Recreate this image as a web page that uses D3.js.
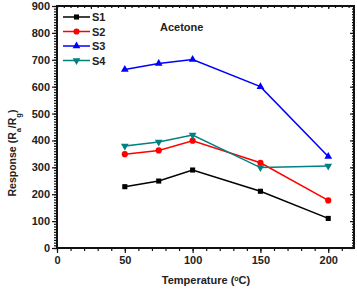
<!DOCTYPE html>
<html>
<head>
<meta charset="UTF-8">
<script src="https://d3js.org/d3.v7.min.js"></script>
<style>
  body { margin: 0; background: #fff; font-family: "Liberation Sans", Arial, sans-serif; }
  text { font-weight: bold; fill: #222; }
</style>
</head>
<body>
<svg id="chart" width="357" height="290"></svg>
<script>
// temperatures (°C)
const temps = [50, 75, 100, 150, 200];
const s1 = [228, 249, 290, 211, 110];
const s2 = [349, 363, 399, 317, 177];
const s3 = [664, 686, 701, 600, 340];
const s4 = [379, 394, 420, 299, 305];
const seriesNames = ["S1", "S2", "S3", "S4"];
const seriesColors = ["#000000", "#ff0000", "#0000ff", "#008080"];
const seriesSymbols = [d3.symbolSquare, d3.symbolCircle, d3.symbolTriangle, d3.symbolTriangle];
const xTicks = [0, 50, 100, 150, 200];
const yTicks = [0, 100, 200, 300, 400, 500, 600, 700, 800, 900];

const allSeries = [s1, s2, s3, s4];
const svg = d3.select("#chart");
const margin = { left: 57, right: 3, top: 6, bottom: 42 };
const W = 357, H = 290;

const x = d3.scaleLinear().domain([0, 219]).range([margin.left, W - margin.right]);
const y = d3.scaleLinear().domain([0, 900]).range([H - margin.bottom, margin.top]);

// minor ticks
const g = svg.append("g");
g.append("g").attr("transform", `translate(0,${y(0)})`)
  .call(d3.axisBottom(x).tickValues(d3.range(0, 220, 10)).tickSize(3).tickFormat(""));
g.append("g").attr("transform", `translate(0,${y(900)})`)
  .call(d3.axisBottom(x).tickValues(d3.range(0, 220, 5)).tickSize(2).tickFormat(""));
g.append("g").attr("transform", `translate(0,${y(900)})`)
  .call(d3.axisBottom(x).tickValues(d3.range(0, 220, 25)).tickSize(3).tickFormat(""));
g.append("g").attr("transform", `translate(${x(0)},0)`)
  .call(d3.axisLeft(y).tickValues(d3.range(0, 901, 10)).tickSize(3).tickFormat(""));
g.append("g").attr("transform", `translate(${x(219)},0)`)
  .call(d3.axisLeft(y).tickValues(d3.range(0, 901, 10)).tickSize(2).tickFormat(""));
g.append("g").attr("transform", `translate(${x(219)},0)`)
  .call(d3.axisLeft(y).tickValues(yTicks).tickSize(4).tickFormat(""));

// major axes
const xAxis = g.append("g").attr("transform", `translate(0,${y(0)})`)
  .call(d3.axisBottom(x).tickValues(xTicks).tickSize(5).tickPadding(3));
const yAxis = g.append("g").attr("transform", `translate(${x(0)},0)`)
  .call(d3.axisLeft(y).tickValues(yTicks).tickSize(5).tickPadding(2));
g.selectAll(".domain").remove();
g.selectAll("line").attr("stroke", "#111").attr("stroke-width", 1.2);
xAxis.selectAll("text").attr("font-size", 11).attr("font-weight", "bold").attr("fill", "#222").attr("font-family", "Liberation Sans, Arial");
yAxis.selectAll("text").attr("font-size", 11).attr("font-weight", "bold").attr("fill", "#222").attr("font-family", "Liberation Sans, Arial");

// frame
svg.append("rect")
  .attr("x", x(0)).attr("y", y(900))
  .attr("width", x(219) - x(0)).attr("height", y(0) - y(900))
  .attr("fill", "none").attr("stroke", "#111").attr("stroke-width", 2);

// series
const line = d3.line().x((d, i) => x(temps[i])).y(d => y(d));
allSeries.forEach((vals, k) => {
  svg.append("path").datum(vals).attr("d", line)
    .attr("fill", "none").attr("stroke", seriesColors[k]).attr("stroke-width", 1.5);
  svg.selectAll(null).data(vals).enter().append("path")
    .attr("d", d3.symbol().type(seriesSymbols[k]).size(k === 1 ? 30 : 26))
    .attr("transform", (d, i) => `translate(${x(temps[i])},${y(d)})${k === 3 ? " rotate(180)" : ""}`)
    .attr("fill", seriesColors[k]);
});

// legend
seriesNames.forEach((name, k) => {
  const ly = 17 + k * 14.5;
  svg.append("line").attr("x1", 63).attr("x2", 90).attr("y1", ly).attr("y2", ly)
    .attr("stroke", seriesColors[k]).attr("stroke-width", 1.5);
  svg.append("path")
    .attr("d", d3.symbol().type(seriesSymbols[k]).size(k === 1 ? 30 : 26))
    .attr("transform", `translate(76.5,${ly})${k === 3 ? " rotate(180)" : ""}`)
    .attr("fill", seriesColors[k]);
  svg.append("text").attr("x", 92).attr("y", ly + 4).attr("font-size", 11).text(name);
});

svg.append("text").attr("x", 160).attr("y", 31).attr("font-size", 11).text("Acetone");

// axis titles
svg.append("text").attr("x", 206).attr("y", 284).attr("text-anchor", "middle").attr("font-size", 11)
  .html('Temperature (<tspan baseline-shift="super" font-size="7">o</tspan>C)');
svg.append("text").attr("transform", "translate(16,153) rotate(-90)")
  .attr("text-anchor", "middle").attr("font-size", 10.5)
  .html('Response (R<tspan baseline-shift="sub" font-size="7.5">a</tspan>/R<tspan baseline-shift="sub" font-size="7.5">g</tspan>)');
</script>
</body>
</html>
